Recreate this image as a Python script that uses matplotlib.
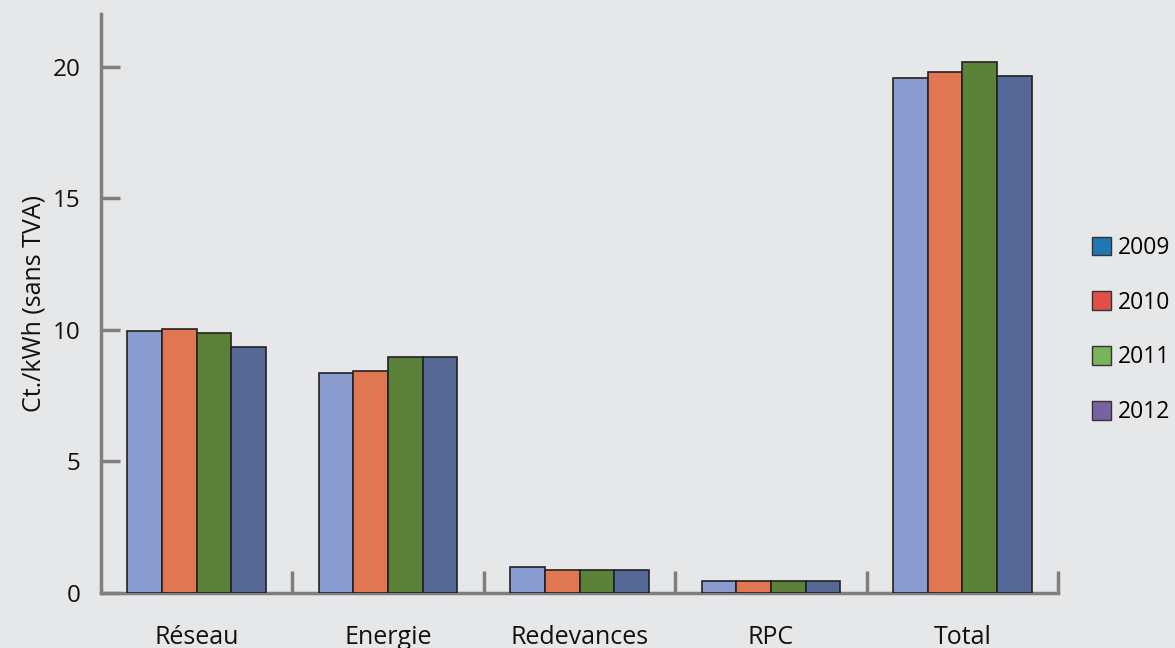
import matplotlib
matplotlib.use("Agg")
import matplotlib.pyplot as plt
from matplotlib.patches import Patch
from matplotlib.ticker import FixedLocator
import numpy as np

categories = ["Réseau", "Energie", "Redevances", "RPC", "Total"]
years = ["2009", "2010", "2011", "2012"]
v2009 = [9.95, 8.35, 0.97, 0.45, 19.57]
v2010 = [10.02, 8.42, 0.89, 0.45, 19.80]
v2011 = [9.87, 8.96, 0.89, 0.45, 20.18]
v2012 = [9.33, 8.96, 0.89, 0.45, 19.66]
series = [v2009, v2010, v2011, v2012]
bar_colors = ["#8a9bd0", "#e07752", "#5b8238", "#566996"]
legend_colors = ["#1f78b4", "#e0504a", "#78b45a", "#7a62a2"]

plt.rcParams['font.family'] = ['Open Sans', 'DejaVu Sans']
bg = "#e6e7e9"
spine_c = "#7f7f7f"

fig = plt.figure(figsize=(11.75, 6.48), dpi=100, facecolor=bg)
ax = fig.add_axes([101/1175, 55/648, (1058-101)/1175, (593-14)/648], facecolor=bg)

x = np.arange(len(categories))
w = 0.181
for i, vals in enumerate(series):
    ax.bar(x + (i - 1.5) * w, vals, width=w, color=bar_colors[i],
           edgecolor="#222222", linewidth=1.2, zorder=3)

ax.set_xlim(-0.5, len(categories) - 0.5)
ax.set_ylim(0, 22)
ax.set_yticks([0, 5, 10, 15, 20])
ax.set_xticks(x)
ax.set_xticklabels(categories, fontsize=18)
ax.xaxis.set_minor_locator(FixedLocator(np.arange(0.5, len(categories), 1.0)))
ax.tick_params(axis='x', which='major', length=0, pad=23, colors='#111111')
ax.tick_params(axis='x', which='minor', direction='in', length=16, width=2.5, color=spine_c)
ax.tick_params(axis='y', which='major', direction='in', length=14, width=2.5,
               color=spine_c, labelsize=17.5, pad=15, labelcolor='#111111')

for s in ['top', 'right']:
    ax.spines[s].set_visible(False)
for s in ['left', 'bottom']:
    ax.spines[s].set_color(spine_c)
    ax.spines[s].set_linewidth(2.5)

ax.set_ylabel("Ct./kWh (sans TVA)", fontsize=18, color='#111111', labelpad=4)

handles = [Patch(facecolor=c, edgecolor="#333333", linewidth=1.0, label=y)
           for c, y in zip(legend_colors, years)]
fig.legend(handles=handles, loc='center left', bbox_to_anchor=(1092/1175, (648-330)/648),
           frameon=False, fontsize=16.5, handlelength=0.85, handleheight=0.85,
           handletextpad=0.3, labelspacing=1.35, borderaxespad=0, borderpad=0)

fig.savefig("out.png", dpi=100, facecolor=bg)
